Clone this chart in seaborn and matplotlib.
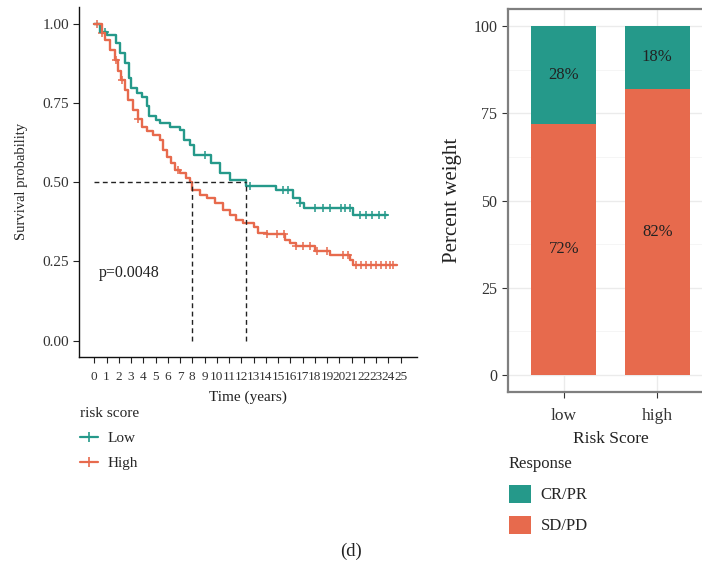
import numpy as np
import pandas as pd
import matplotlib
matplotlib.use("Agg")
import matplotlib.pyplot as plt
from matplotlib.lines import Line2D
from matplotlib.patches import Patch
import seaborn as sns

sns.set_theme(style="white")
plt.rcParams["font.family"] = ["Liberation Serif", "DejaVu Serif"]

# ---------------- data ----------------
low_times = [0, 0.5, 1.0, 1.8, 2.1, 2.5, 2.8, 3.0, 3.5, 3.9, 4.3, 4.5, 5.0, 5.4, 6.2, 7.0, 7.3,
             7.8, 8.1, 9.5, 10.3, 11.1, 12.4, 14.8, 16.2, 16.8, 17.1, 21.1, 23.9]
low_surv = [1.0, 0.975, 0.964, 0.94, 0.907, 0.875, 0.83, 0.797, 0.78, 0.77, 0.74, 0.71, 0.696,
            0.686, 0.674, 0.665, 0.633, 0.617, 0.585, 0.56, 0.528, 0.507, 0.488, 0.475, 0.45,
            0.434, 0.418, 0.396, 0.396]
high_times = [0, 0.6, 0.9, 1.3, 1.7, 1.95, 2.15, 2.5, 2.75, 3.2, 3.6, 3.9, 4.3, 4.8, 5.4, 5.6,
              5.9, 6.3, 6.6, 7.0, 7.5, 7.8, 8.0, 8.6, 9.2, 9.85, 10.5, 11.1, 11.6, 12.1, 13.0,
              13.4, 14.1, 15.6, 16.0, 16.5, 18.0, 19.2, 20.9, 21.1, 24.7]
high_surv = [1.0, 0.97, 0.95, 0.917, 0.885, 0.85, 0.822, 0.79, 0.76, 0.728, 0.70, 0.675, 0.66,
             0.649, 0.633, 0.60, 0.58, 0.56, 0.538, 0.528, 0.512, 0.50, 0.475, 0.46, 0.449, 0.433,
             0.412, 0.396, 0.38, 0.372, 0.36, 0.34, 0.336, 0.318, 0.307, 0.299, 0.284, 0.27,
             0.255, 0.239, 0.239]
low_censor = [0.9, 9.0, 12.7, 15.4, 15.8, 16.8, 18.0, 18.7, 19.2, 20.1, 20.5, 20.9, 21.7, 22.2,
              22.7, 23.2, 23.7]
high_censor = [0.2, 0.6, 1.8, 2.3, 3.6, 6.8, 14.1, 14.9, 15.5, 16.5, 17.0, 17.6, 18.2, 19.0,
               20.3, 20.7, 21.4, 21.8, 22.2, 22.6, 23.0, 23.4, 23.8, 24.1, 24.4]
median_low = 12.4
median_high = 7.95
p_text = "p=0.0048"
x_ticks = list(range(0, 26))
y_ticks = [0.0, 0.25, 0.5, 0.75, 1.0]

groups = ["low", "high"]
cr_pr = [28, 18]
sd_pd = [72, 82]

TEAL = "#25998A"
RED = "#E76A4D"

# ---------------- figure ----------------
W, H = 702, 571
fig = plt.figure(figsize=(W / 100, H / 100), dpi=100)

def ax_rect(x0, y0, x1, y1):
    return [x0 / W, 1 - y1 / H, (x1 - x0) / W, (y1 - y0) / H]

# ---- KM panel ----
ax = fig.add_axes(ax_rect(79.3, 7, 417, 356.7))
curve = pd.concat([
    pd.DataFrame({"t": low_times, "s": low_surv, "g": "Low"}),
    pd.DataFrame({"t": high_times, "s": high_surv, "g": "High"}),
])
sns.lineplot(data=curve, x="t", y="s", hue="g", palette={"Low": TEAL, "High": RED},
             estimator=None, sort=False, drawstyle="steps-post", linewidth=1.7,
             legend=False, ax=ax)

def surv_at(times, surv, c):
    idx = np.searchsorted(np.asarray(times), np.asarray(c), side="right") - 1
    return np.asarray(surv)[idx]

cens = pd.concat([
    pd.DataFrame({"t": low_censor, "s": surv_at(low_times, low_surv, low_censor), "g": "Low"}),
    pd.DataFrame({"t": high_censor, "s": surv_at(high_times, high_surv, high_censor), "g": "High"}),
])
for g, col in [("Low", TEAL), ("High", RED)]:
    sub = cens[cens.g == g]
    sns.scatterplot(x=sub.t, y=sub.s, marker="+", s=36, color=col, linewidth=1.1, ax=ax,
                    legend=False)

dash = dict(color="#222222", linestyle=(0, (3.5, 2.5)), linewidth=1.0)
ax.plot([0, median_low], [0.5, 0.5], **dash)
ax.plot([median_high, median_high], [0, 0.5], **dash)
ax.plot([median_low, median_low], [0, 0.5], **dash)

ax.text(0.4, 0.215, p_text, fontsize=11.5, color="#222222", va="center", ha="left")

ax.set_xlim(-1.22, 26.34)
ax.set_ylim(-0.0505, 1.0527)
ax.set_xticks(x_ticks)
ax.set_xticklabels([str(t) for t in x_ticks], fontsize=9.5)
ax.set_yticks(y_ticks)
ax.set_yticklabels([f"{v:.2f}" for v in y_ticks], fontsize=11)
ax.tick_params(axis="both", colors="#222222", length=4, width=0.8, labelcolor="#333333",
               direction="out", bottom=True, left=True)
ax.tick_params(axis="x", pad=6)
for s in ["top", "right"]:
    ax.spines[s].set_visible(False)
for s in ["left", "bottom"]:
    ax.spines[s].set_color("#111111")
    ax.spines[s].set_linewidth(1.0)
ax.set_xlabel("Time (years)", fontsize=11, color="#222222", labelpad=6)
ax.set_ylabel("Survival probability", fontsize=10.5, color="#222222", labelpad=10)
ax.grid(False)

handles = [Line2D([0], [0], color=TEAL, lw=1.6, marker="+", markersize=7, mew=1.2),
           Line2D([0], [0], color=RED, lw=1.6, marker="+", markersize=7, mew=1.2)]
leg = fig.legend(handles, ["Low", "High"], title="risk score", loc="upper left",
                 bbox_to_anchor=(66 / W, 1 - 393 / H), frameon=False, fontsize=11,
                 title_fontsize=11, handlelength=1.2, handletextpad=0.6, labelspacing=0.75)
leg._legend_box.align = "left"

# ---- stacked bar panel ----
bx = fig.add_axes(ax_rect(507.7, 9, 713.3, 391.7))
bars = pd.DataFrame({"g": groups, "total": np.add(cr_pr, sd_pd), "sd": sd_pd, "cr": cr_pr})
sns.barplot(data=bars, x="g", y="total", color=TEAL, saturation=1, width=0.7, linewidth=0,
            ax=bx)
sns.barplot(data=bars, x="g", y="sd", color=RED, saturation=1, width=0.7, linewidth=0, ax=bx)
for i, row in bars.iterrows():
    bx.text(i, row.sd + row.cr / 2, f"{row.cr}%", ha="center", va="center", fontsize=12,
            color="#222222")
    bx.text(i, row.sd / 2, f"{row.sd}%", ha="center", va="center", fontsize=12,
            color="#222222")
bx.set_xlim(-0.6, 1.6)
bx.set_ylim(-4.8, 104.9)
bx.set_yticks([0, 25, 50, 75, 100])
bx.set_yticks([12.5, 37.5, 62.5, 87.5], minor=True)
bx.set_axisbelow(True)
bx.grid(True, which="major", color="#EBEBEB", linewidth=1.0)
bx.grid(True, which="minor", axis="y", color="#F4F4F4", linewidth=0.6)
bx.tick_params(axis="both", which="major", colors="#333333", length=4, width=0.8,
               labelsize=11.5, labelcolor="#333333", bottom=True, left=True)
bx.tick_params(axis="x", labelsize=12.5, pad=8)
bx.tick_params(which="minor", length=0)
for s in bx.spines.values():
    s.set_visible(True)
    s.set_color("#7F7F7F")
    s.set_linewidth(1.6)
bx.set_xlabel("Risk Score", fontsize=12.5, color="#222222", labelpad=5)
bx.set_ylabel("Percent weight", fontsize=15, color="#222222", labelpad=8)

phandles = [Patch(facecolor=TEAL, edgecolor="none"), Patch(facecolor=RED, edgecolor="none")]
leg2 = fig.legend(phandles, ["CR/PR", "SD/PD"], title="Response", loc="upper left",
                  bbox_to_anchor=(494 / W, 1 - 441 / H), frameon=False, fontsize=12,
                  title_fontsize=12, handlelength=1.3, handleheight=1.3,
                  handletextpad=0.6, labelspacing=0.75)
leg2._legend_box.align = "left"

fig.text(351 / W, 1 - 551 / H, "(d)", ha="center", va="center", fontsize=13.5,
         color="#222222")

fig.savefig("out.png", dpi=100)
